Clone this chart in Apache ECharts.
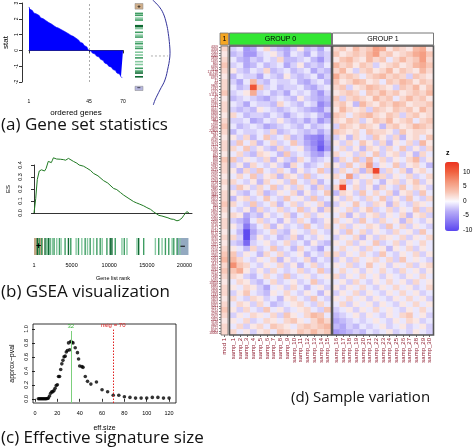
<!DOCTYPE html>
<html><head><meta charset="utf-8">
<script src="https://cdn.jsdelivr.net/npm/echarts@6/dist/echarts.min.js"></script>
<style>html,body{margin:0;padding:0;background:#fff}#c{width:474px;height:448px}</style>
</head><body><div id="c"></div>
<script>
// ---------------- DATA ----------------
// (a) gene set statistics
const statValues = [
 2.75,2.62,2.52,2.44,2.37,2.31,2.26,2.21,2.14,2.07,
 2.0,1.94,1.88,1.82,1.76,1.72,1.67,1.61,1.55,1.5,
 1.46,1.42,1.37,1.32,1.28,1.23,1.18,1.13,1.08,1.03,
 0.98,0.94,0.89,0.84,0.77,0.71,0.65,0.59,0.52,0.45,
 0.39,0.31,0.22,0.12,0.03,-0.04,-0.1,-0.17,-0.23,-0.3,
 -0.36,-0.42,-0.48,-0.56,-0.64,-0.72,-0.8,-0.87,-0.94,-1.0,
 -1.06,-1.13,-1.2,-1.28,-1.35,-1.43,-1.5,-1.58,-1.66,-1.75];
const statXTicks = [1,45,70];
const statYTicks = [-2,-1,0,1,2,3];
const aSetRanks = [2,4,7,9,15,16,18,22,25,27,32,34,37,39,43,46,49,53,56,60,63,65,69];
const aSetShade = [2,2,1,2,3,3,1,2,1,2,1,2,1,2,1,1,2,1,1,2,2,3,3];
const aEndBoxes = [{from:-8.5,to:-2.5,label:'+',color:'#cfae8a'},{from:79,to:83.5,label:'\u2212',color:'#b6b6de'}];
const densityCurve = [[0.12,3.19],[0.4,2.8],[0.6,2.36],[0.75,1.7],[0.83,1.11],[0.89,0.4],[0.91,-0.14],[0.88,-0.6],[0.83,-0.98],[0.68,-1.81],[0.45,-2.44],[0.23,-3.06],[0.15,-3.375]];
const densityMean = -0.31;
// (b) GSEA
const esCurve = [[0,0],[230,0.12],[330,0.2],[440,0.28],[560,0.27],[700,0.35],[850,0.34],[1000,0.36],[1200,0.345],[1400,0.35],[1500,0.34],[1600,0.37],[1750,0.40],[1900,0.43],[2100,0.425],[2300,0.42],[2450,0.44],[2580,0.46],[2800,0.455],[3000,0.45],[3240,0.455],[3500,0.448],[3900,0.445],[4200,0.44],[4580,0.455],[4800,0.45],[5240,0.43],[5700,0.415],[6000,0.40],[6580,0.39],[7000,0.375],[7500,0.355],[7910,0.33],[8500,0.31],[9240,0.27],[9800,0.25],[10570,0.205],[11000,0.195],[11500,0.17],[11900,0.15],[12500,0.125],[13240,0.095],[13600,0.085],[14000,0.075],[14570,0.06],[15000,0.045],[15500,0.03],[15900,0.01],[16200,-0.003],[16600,-0.02],[17000,-0.025],[17240,-0.036],[17800,-0.04],[18200,-0.05],[18570,-0.053],[19000,-0.065],[19300,-0.06],[19500,-0.045],[19700,-0.04],[19900,-0.02],[20130,-0.008],[20300,0.011],[20400,0.005],[20570,0.003]];
const leadingEdge = 2580;
const peakES = 0.46;
const esTicks = [0,0.1,0.2,0.3,0.4];
const bHitRanks = [444,711,1022,1467,1689,1911,2133,2444,2667,3022,3378,3600,4133,4578,4889,5600,5911,6356,6800,7111,7467,7911,8356,8800,9067,9689,10133,10356,10800,11689,12000,12356,13689,13911,14578,16133,16578,17022,17467,17911,18356,18578,19022,19378];
const bHitShade  = [3,2,2,3,1,3,2,1,2,1,2,1,2,3,2,1,2,1,2,1,2,1,2,2,1,2,3,3,2,1,2,1,1,3,2,1,2,1,2,2,1,2,2,1];
const bRegions = [{from:0,to:1200,label:'+',color:'#c3a584'},{from:19000,to:20530,label:'\u2212',color:'#93a9c0'}];
const rankTicks = [1,5000,10000,15000,20000];
// (c) effective signature size
const effSize   = [3,4,5,6,7,8,9,10,11,12,13,14,15,16,17,18,19,20,21,22,23,24,25,26,27,28,29,30,31,32,33,34,36,38,39,40,42,43,45,47,50,55,60,65,70,75,80,85,90,95,100,105,110,115,120];
const approxPval= [0,0,0,0,0,0,0,0,0.005,0.01,0.04,0.08,0.1,0.1,0.12,0.15,0.19,0.2,0.32,0.32,0.42,0.5,0.55,0.6,0.61,0.67,0.69,0.8,0.7,0.82,0.81,0.8,0.73,0.66,0.57,0.47,0.46,0.45,0.32,0.25,0.21,0.24,0.13,0.1,0.05,0.05,0.03,0.02,0.01,0.01,0.01,0.02,0.02,0.01,0.01];
const effTicks = [0,20,40,60,80,100,120];
const pvalTicks = [0,0.2,0.4,0.6,0.8,1.0];
const bestSize = 32, nsig = 70;
// (d) sample variation
const geneIds = [
"4059","4058","2064","4060","5870","1495","860","6490","7414","117178",
"80439","6767","71","60","9805","1432","1017","51176","87","5291",
"9940","5747","5727","8660","6868","6416","5881","998","5599","5898",
"22800","6237","387","4790","5970","7124","7157","1026","595","894",
"896","898","1869","2932","3725","5594","5595","5290","5293","5728",
"6654","2885","3265","3845","4893","5604","5605","369","673","5894",
"1956","2065","2099","2100","3716","3717","6774","6772","3569","3570",
"7422","2321","3791","5156","5159","2260","2261","2263","1147","3551",
"4792","5971","7186","7189","9020","10454","6885","5606","5608","1433",
"5600","5603","6300","9261","4217","4214","4296","2002","2353","3726",
"4609","6722","8061","10000"];
const group0Samples = ["samp_1","samp_2","samp_3","samp_4","samp_5","samp_6","samp_7","samp_8","samp_9","samp_10","samp_11","samp_12","samp_13","samp_14","samp_15"];
const group1Samples = ["samp_16","samp_17","samp_18","samp_19","samp_20","samp_21","samp_22","samp_23","samp_24","samp_25","samp_26","samp_27","samp_28","samp_29","samp_30"];
const groupNames = ["GROUP 0","GROUP 1"];
const mod1Values = [2,1,2,3,2,1,2,2,3,1,2,2,1,2,3,2,1,2,2,1,3,2,2,1,2,1,2,2,3,2,1,2,2,1,2,1,2,3,4,2,3,2,1,2,2,1,2,3,2,1,2,2];
const zRows = [
[-2,-1,-5,-4,-1,2,-2,-3,-4,-2,1,-3,-2,-4,-1, 2,3,1,4,2,3,6,5,1,3,2,1,4,5,1],
[-3,-2,-5,-5,-2,-1,1,-2,-4,-1,-2,-4,-1,-3,-2, 3,1,2,3,2,4,6,2,3,1,2,3,5,6,3],
[-1,-3,-4,-2,-3,-1,-2,2,-3,-3,-2,-1,-3,-5,-2, 1,3,4,2,1,4,2,3,-1,2,4,2,3,6,2],
[-2,-1,-4,-3,-1,-3,-2,-1,-4,-2,1,-3,-2,-3,-1, 4,2,3,1,3,2,-2,1,2,3,1,2,4,5,3],
[1,-2,-3,-1,-2,2,-3,-2,-1,-3,-2,-1,-4,-2,-3, 2,4,1,-2,2,3,1,2,4,1,3,2,1,4,2],
[-3,-1,-2,-2,-4,-1,-2,-3,1,-2,-3,-2,-1,-4,-2, 5,2,3,2,-1,2,3,4,2,3,2,-2,3,2,1],
[-2,-4,-1,4,-2,-3,-1,-2,-2,-1,-3,-4,-2,-1,-3, 3,1,2,4,3,1,2,-1,3,2,4,3,1,3,2],
[-1,-3,-2,11,3,-2,-1,-3,-2,-2,-1,-3,-4,-2,-1, 2,3,-2,1,2,4,3,2,1,-2,3,2,4,1,3],
[-2,-1,1,5,-2,-1,-3,-2,-4,-1,-2,-1,-3,-5,-2, 1,2,3,2,-1,3,2,4,2,3,1,2,3,2,4],
[-3,-2,-1,-2,-3,-4,-2,-1,-2,-3,1,-2,-3,-4,-3, 3,-2,2,3,2,1,4,2,3,-1,2,4,2,3,1],
[-1,-2,-4,-1,-2,-2,-3,2,-1,-2,-3,-1,-2,-6,-4, 2,3,1,-3,4,2,1,3,2,4,3,1,2,2,3],
[-2,-3,-2,-3,1,-1,-2,-3,-2,-1,-2,-3,-4,-5,-2, 1,4,2,1,2,-2,3,2,1,3,2,3,1,4,2],
[2,-1,-3,-2,-2,-3,-1,-2,-4,-2,-1,-2,-1,-3,-5, 3,2,-1,2,3,4,2,1,3,2,-2,2,3,1,2],
[-2,-2,-1,-4,-3,-1,-2,1,-2,-3,-2,-4,-2,-5,-3, 2,1,3,2,-2,1,3,2,4,1,2,3,-1,2,3],
[-1,-3,-2,-1,-2,-4,-3,-2,-1,-2,-3,-1,-3,-2,-1, -2,3,2,1,3,2,1,-3,2,3,1,2,4,3,2],
[-3,-1,-2,-2,-1,-2,2,-3,-2,-1,-2,-3,-2,-4,-2, 3,2,1,2,-1,3,2,2,1,-2,3,1,2,2,1],
[1,-2,2,-3,-1,3,-2,-1,2,-3,-2,-5,-6,-7,-3, -2,1,-3,2,-1,-2,3,1,-2,2,-3,1,2,-1,3],
[-2,3,-1,2,-3,-1,2,-2,-1,3,-2,-4,-6,-8,-4, 1,-2,2,-1,3,1,-2,2,-3,1,-1,2,-2,4,1],
[2,-1,3,-2,1,-2,-3,2,-2,-1,1,-3,-5,-9,-5, -1,2,-2,1,-3,2,1,-2,2,-1,3,-2,1,-2,2],
[-1,2,-2,-3,2,1,-1,-3,3,-2,-1,-2,-4,-5,-2, 2,-1,1,-2,2,-1,3,-2,1,2,-2,1,-3,2,-1],
[3,-2,1,-1,-2,2,-3,1,-2,-3,2,-1,-3,-2,-1, -3,2,-1,3,-2,4,-1,2,-2,1,-1,2,4,-2,1],
[-2,1,-3,2,-1,-2,1,-2,-4,2,-1,-3,-2,-1,2, 1,-2,3,-1,2,6,-2,1,-1,3,-2,1,2,-1,-3],
[1,-3,2,-2,3,-1,-2,2,-1,-3,1,-2,-1,3,-2, -2,2,-1,2,-3,3,12,-2,2,-1,2,-3,1,2,-1],
[-1,2,-1,3,-2,1,2,-3,2,1,-2,3,-2,-1,1, 2,-1,6,-2,1,-1,3,2,-2,1,-1,2,-2,-1,2],
[2,-1,-2,1,-3,2,-1,1,-2,3,-1,-2,2,-3,-1, -1,3,-2,1,-2,2,-1,-3,1,2,-2,1,3,-2,1],
[-2,3,1,-2,2,-1,3,-2,1,-2,2,-1,-3,2,-2, 2,12,-1,2,-2,1,-3,2,-1,-2,3,-1,2,1,-2],
[1,-2,-3,-1,2,-3,-2,1,-1,2,-3,1,-2,-1,3, -3,2,1,-2,3,-1,2,-1,2,-3,1,2,-2,3,-1],
[-3,1,2,-2,-1,3,-1,-2,3,-1,1,-2,3,-2,-1, 1,-2,2,-1,-2,2,-1,3,-2,1,-2,3,-1,-2,2],
[2,-1,-2,3,-2,-1,2,-3,-1,2,-2,1,-1,2,-3, -2,1,-1,3,-1,-2,2,1,-3,2,-1,-2,2,1,-1],
[-1,-2,1,-3,2,-2,-1,2,-2,-1,3,-2,1,-3,2, 1,-1,2,-2,1,3,-2,-1,2,-2,1,-1,3,-2,2],
[2,1,-4,-2,-3,1,-2,-1,2,-3,-1,2,-2,1,-1, -1,2,-3,1,-2,1,2,-2,1,-1,2,-3,1,2,-2],
[-2,-3,-5,-1,2,-2,-1,-3,1,-2,2,-1,-3,-2,1, 2,-1,1,-2,3,-1,-2,2,-1,1,-3,2,-1,-2,1],
[1,-2,-7,-3,-1,2,-3,1,-2,-1,-2,3,-1,-2,2, -1,2,-2,1,-1,2,1,-2,3,-1,2,-2,1,-1,-2],
[-1,-3,-10,-4,-2,-1,2,-2,-3,1,-1,-2,2,-1,-2, 1,-2,3,-1,2,-2,1,-1,-2,2,-1,1,-2,3,-1],
[2,-2,-10,-3,1,-2,-1,-3,-2,2,-3,-1,-2,1,-1, -2,1,-1,2,-3,1,-2,2,1,-1,2,-2,1,-1,2],
[-2,-3,-8,-2,-1,1,-2,-1,2,-2,-1,-3,1,-2,-3, 1,-1,2,-2,1,-1,3,-2,-1,2,-2,1,-1,2,-1],
[1,-1,-3,2,-2,-1,3,-2,-1,-3,2,-1,-2,-4,-1, -1,2,-1,1,-2,2,-1,1,-3,1,-1,2,-2,1,-1],
[3,-2,1,-1,-3,2,-1,2,-2,-1,1,-3,-1,-2,2, 2,-2,1,-1,2,-1,-2,3,-1,-2,1,-1,2,-2,1],
[4,2,-1,-2,1,-1,2,-3,1,-2,-1,2,-3,-1,-2, -2,1,-2,2,-1,1,2,-1,2,-2,3,-1,1,-1,-2],
[7,3,2,-1,-2,1,-1,2,-2,1,-3,-1,2,-2,-1, 1,-1,2,-2,-1,3,-1,1,-2,1,-1,2,-2,1,2],
[3,5,1,-2,1,-2,2,-1,-2,-1,2,-2,-1,3,-2, -1,2,-1,1,-2,1,-1,2,-1,-2,2,-1,1,-2,1],
[2,1,-2,-3,-1,2,-1,-2,3,-2,-1,1,-2,-1,1, 2,-2,1,-1,2,-1,1,-2,1,-1,-2,1,-1,2,-1],
[-1,2,1,-2,-3,-1,2,-2,-1,1,-2,-1,3,-2,-1, -1,1,-2,2,-1,-2,1,-1,2,-1,1,-2,2,-1,1],
[1,-1,2,1,-2,-4,-1,1,-2,2,-1,-3,-1,1,-2, 1,-2,1,-1,2,-1,-2,1,-1,2,-1,1,-2,-1,2],
[-2,1,3,-1,-2,-3,1,-1,2,-1,-2,1,-1,-3,1, -2,1,-1,2,-2,1,-1,-2,1,-1,2,-1,1,-2,-1],
[2,-1,-2,2,1,-2,-1,-3,1,2,-1,-2,3,-1,-2, 1,-1,2,-1,1,-2,1,-1,-2,1,-1,2,-1,1,-2],
[-1,2,1,-2,2,-1,-3,-2,-1,1,2,-1,-2,2,-1, -1,2,-2,1,-1,1,-2,1,-1,-2,1,-1,2,-1,1],
[1,-2,2,-1,-2,3,-1,1,-2,-1,1,2,-1,-2,3, -2,-1,1,-2,1,-1,2,-1,1,-1,-2,1,-1,2,-1],
[-2,1,-1,2,1,-1,2,-2,3,1,-1,2,4,3,-1, -3,-2,-1,1,-2,1,-1,-2,1,-1,2,3,-1,1,-2],
[1,-1,2,-2,-1,2,1,-1,2,3,1,-1,2,4,2, -4,-3,-2,-1,-2,-1,1,-1,-2,1,-1,2,1,-2,-1],
[-1,2,-2,1,2,-1,3,2,1,-1,2,3,2,3,4, -3,-4,-2,-3,-1,-2,-1,1,-2,-1,1,-2,-1,1,-2],
[2,-1,1,-2,1,2,-1,3,2,1,3,2,4,2,3, -5,-4,-3,-2,-3,-1,-2,-1,1,-2,-1,-2,1,-1,-2]];
const zTicks = [-10,-5,0,5,10];
const zMin = -10.3, zMax = 13.4;

// ---------------- STYLE / LAYOUT ----------------
const F = 'Liberation Sans, Arial, sans-serif';
const CAP = 'Open Sans, sans-serif';
const DR = '#8e1b2e';
const GREENS = {1:'#86c9a0',2:'#3f9d63',3:'#0e6932'};
const HM = {top:46, h:289, modL:221, modW:7, g0L:230, g0W:101, g1L:333, g1W:100, headTop:33, headH:12};

const chart = echarts.init(document.getElementById('c'), null, {renderer:'canvas'});
const rowIdx = zRows.map((_, i) => i);
const g0Data = [], g1Data = [];
zRows.forEach((row, r) => row.forEach((v, c) => { if (c < 15) g0Data.push([c, r, v]); else g1Data.push([c - 15, r, v]); }));
const modData = mod1Values.map((v, r) => [0, r, v]);

function axisText(sz){ return {fontFamily:F, fontSize:sz, color:'#000'}; }
const blackLine = {lineStyle:{color:'#000', width:0.8}};

const grids = [
  {left:29, top:3, width:94, height:79},            //0 stat
  {left:135, top:3, width:8, height:88},            //1 barcode a
  {left:150, top:0, width:22, height:105},          //2 density
  {left:34, top:165, width:158, height:48},         //3 ES
  {left:34, top:238, width:158, height:17},         //4 barcode b
  {left:33, top:324, width:143, height:79, show:true, borderColor:'#000', borderWidth:0.8, backgroundColor:'transparent'}, //5 eff
  {left:HM.modL, top:HM.top, width:HM.modW, height:HM.h}, //6 mod1
  {left:HM.g0L, top:HM.top, width:HM.g0W, height:HM.h},   //7 g0
  {left:HM.g1L, top:HM.top, width:HM.g1W, height:HM.h},   //8 g1
  {left:445, top:162, width:14, height:69}                //9 colorbar labels
].map(g => Object.assign({containLabel:false, outerBoundsMode:'none'}, g));

const hidden = {show:false};
const plain = v => String(v);
const xAxes = [
  {gridIndex:0, type:'value', min:1, max:70, offset:14, axisLine:Object.assign({show:true},blackLine),
   axisTick:{show:true, length:3, lineStyle:{color:'#000',width:0.8}, customValues:statXTicks},
   axisLabel:Object.assign({customValues:statXTicks, margin:3, formatter:plain}, axisText(5)), splitLine:hidden,
   name:'ordered genes', nameLocation:'middle', nameGap:13, nameTextStyle:axisText(8)},
  {gridIndex:1, type:'value', min:0, max:1, show:false},
  {gridIndex:2, type:'value', min:0, max:1, show:false},
  {gridIndex:3, type:'value', min:0, max:21000, axisLine:Object.assign({show:true},blackLine), axisTick:hidden, axisLabel:hidden, splitLine:hidden},
  {gridIndex:4, type:'value', min:0, max:21000, axisLine:hidden, axisTick:hidden, splitLine:hidden,
   axisLabel:Object.assign({customValues:rankTicks, margin:7, formatter:plain}, axisText(5.5)),
   name:'Gene list rank', nameLocation:'middle', nameGap:20, nameTextStyle:axisText(5.5)},
  {gridIndex:5, type:'value', min:-1.8, max:126.2, axisLine:hidden, splitLine:hidden,
   axisTick:{show:true, length:3, lineStyle:{color:'#000',width:0.8}, customValues:effTicks},
   axisLabel:Object.assign({customValues:effTicks, margin:7, formatter:plain}, axisText(5.5)),
   name:'eff.size', nameLocation:'middle', nameGap:22, nameTextStyle:axisText(7)},
  {gridIndex:6, type:'category', data:['mod 1'], axisLine:hidden, axisTick:{show:true, length:2, alignWithLabel:true, lineStyle:{color:'#000',width:0.6}},
   axisLabel:{rotate:90, interval:0, margin:3, fontFamily:F, fontSize:6, color:DR}},
  {gridIndex:7, type:'category', data:group0Samples, axisLine:hidden, axisTick:{show:true, length:2, alignWithLabel:true, interval:0, lineStyle:{color:'#000',width:0.6}},
   axisLabel:{rotate:90, interval:0, margin:3, fontFamily:F, fontSize:6, color:DR}},
  {gridIndex:8, type:'category', data:group1Samples, axisLine:hidden, axisTick:{show:true, length:2, alignWithLabel:true, interval:0, lineStyle:{color:'#000',width:0.6}},
   axisLabel:{rotate:90, interval:0, margin:3, fontFamily:F, fontSize:6, color:DR}},
  {gridIndex:9, type:'value', min:0, max:1, show:false}
];
const yAxes = [
  {gridIndex:0, type:'value', min:-2, max:3, offset:7, axisLine:Object.assign({show:true},blackLine),
   axisTick:{show:true, length:3, lineStyle:{color:'#000',width:0.8}, customValues:statYTicks},
   axisLabel:Object.assign({customValues:statYTicks, rotate:90, margin:3}, axisText(5)), splitLine:hidden,
   name:'stat', nameLocation:'middle', nameGap:12, nameRotate:90, nameTextStyle:axisText(8)},
  {gridIndex:1, type:'value', min:-9, max:84, inverse:true, show:false},
  {gridIndex:2, type:'value', min:-3.375, max:3.19, show:false},
  {gridIndex:3, type:'value', min:0, max:0.4, offset:8, axisLine:Object.assign({show:true},blackLine),
   axisTick:{show:true, length:3, lineStyle:{color:'#000',width:0.8}, customValues:esTicks},
   axisLabel:Object.assign({customValues:esTicks, rotate:90, margin:3, formatter:v=>v.toFixed(1)}, axisText(5.5)), splitLine:hidden,
   name:'ES', nameLocation:'middle', nameGap:15, nameRotate:90, nameTextStyle:axisText(6)},
  {gridIndex:4, type:'value', min:0, max:1, show:false},
  {gridIndex:5, type:'value', min:-0.06, max:1.07, axisLine:hidden, splitLine:hidden,
   axisTick:{show:true, length:3, lineStyle:{color:'#000',width:0.8}, customValues:pvalTicks},
   axisLabel:Object.assign({customValues:pvalTicks, rotate:90, margin:4, formatter:v=>v.toFixed(1)}, axisText(5.5)),
   name:'approx\u2212pval', nameLocation:'middle', nameGap:17, nameRotate:90, nameTextStyle:axisText(7)},
  {gridIndex:6, type:'category', data:rowIdx, inverse:true, show:false},
  {gridIndex:7, type:'category', data:rowIdx, inverse:true, show:false},
  {gridIndex:8, type:'category', data:rowIdx, inverse:true, show:false},
  {gridIndex:9, type:'value', min:zMin, max:zMax, position:'right', axisLine:hidden, axisTick:hidden, splitLine:hidden,
   axisLabel:Object.assign({customValues:zTicks, margin:4}, axisText(6.5))},
  {gridIndex:6, type:'category', data:geneIds, inverse:true, position:'left', axisLine:hidden,
   axisTick:{show:true, length:2, interval:0, alignWithLabel:true, lineStyle:{color:'#000',width:0.5}},
   axisLabel:{interval:0, margin:3, fontFamily:F, fontSize:3.2, color:DR}}
];

function hitLinesH(params, api){ // horizontal hit lines (panel a)
  const p0 = api.coord([0, api.value(0)]), p1 = api.coord([1, api.value(0)]);
  return {type:'rect', shape:{x:p0[0], y:p0[1]-0.8, width:p1[0]-p0[0], height:1.6}, style:{fill:GREENS[api.value(1)]}};
}
function hitLinesV(params, api){ // vertical hit lines (panel b)
  const p0 = api.coord([api.value(0), 0]), p1 = api.coord([api.value(0), 1]);
  return {type:'rect', shape:{x:p0[0]-0.7, y:p1[1], width:1.4, height:p0[1]-p1[1]}, style:{fill:GREENS[api.value(1)]}};
}

const series = [
  {type:'line', xAxisIndex:0, yAxisIndex:0, step:'middle', symbol:'none', data:statValues.map((v,i)=>[i+1,v]),
   lineStyle:{color:'#0000ff', width:0.6}, areaStyle:{color:'#0000ff', opacity:1}, silent:true,
   markLine:{silent:true, symbol:'none', label:{show:false}, lineStyle:{color:'#888', type:[2,2], width:0.7}, data:[{xAxis:45}]}},
  {type:'custom', xAxisIndex:1, yAxisIndex:1, data:aEndBoxes.map((b,i)=>[i]), silent:true,
   renderItem:(params, api)=>{ const b = aEndBoxes[api.value(0)];
     const p0 = api.coord([0,b.from]), p1 = api.coord([1,b.to]);
     return {type:'group', children:[
       {type:'rect', shape:{x:p0[0], y:p0[1], width:p1[0]-p0[0], height:p1[1]-p0[1]}, style:{fill:b.color, stroke:'#888', lineWidth:0.5}},
       {type:'text', style:{text:b.label, x:(p0[0]+p1[0])/2, y:(p0[1]+p1[1])/2, align:'center', verticalAlign:'middle', font:'bold 6px '+F, fill:'#000'}}]}; }},
  {type:'custom', xAxisIndex:1, yAxisIndex:1, data:aSetRanks.map((r,i)=>[r, aSetShade[i]]), renderItem:hitLinesH, silent:true},
  {type:'line', xAxisIndex:2, yAxisIndex:2, data:densityCurve, smooth:0.4, symbol:'none', clip:false, silent:true,
   lineStyle:{color:'#33339a', width:1}},
  {type:'line', xAxisIndex:2, yAxisIndex:2, data:[[-0.32,densityMean],[0.82,densityMean]], symbol:'none', clip:false, silent:true,
   lineStyle:{color:'#999', width:0.8, type:[2,2]}},
  {type:'line', xAxisIndex:3, yAxisIndex:3, data:esCurve, symbol:'none', clip:false, silent:true,
   lineStyle:{color:'#1f7a22', width:1},
   markLine:{silent:true, symbol:'none', label:{show:false}, lineStyle:{color:'#e08a8a', type:'solid', width:0.7},
     data:[[{coord:[leadingEdge,0]},{coord:[leadingEdge,peakES]}]]}},
  {type:'custom', xAxisIndex:4, yAxisIndex:4, data:bRegions.map((b,i)=>[i]), silent:true,
   renderItem:(params, api)=>{ const b = bRegions[api.value(0)];
     const p0 = api.coord([b.from,0]), p1 = api.coord([b.to,1]);
     return {type:'rect', shape:{x:p0[0], y:p1[1], width:p1[0]-p0[0], height:p0[1]-p1[1]}, style:{fill:b.color}}; }},
  {type:'custom', xAxisIndex:4, yAxisIndex:4, data:bHitRanks.map((r,i)=>[r, bHitShade[i]]), renderItem:hitLinesV, silent:true},
  {type:'custom', xAxisIndex:4, yAxisIndex:4, data:bRegions.map((b,i)=>[i]), silent:true, z:5,
   renderItem:(params, api)=>{ const b = bRegions[api.value(0)];
     const p0 = api.coord([b.from,0]), p1 = api.coord([b.to,1]);
     return {type:'text', style:{text:b.label, x:(p0[0]+p1[0])/2, y:(p0[1]+p1[1])/2, align:'center', verticalAlign:'middle', font:'bold 9px '+F, fill:'#000'}}; }},
  {type:'scatter', xAxisIndex:5, yAxisIndex:5, data:effSize.map((e,i)=>[e, approxPval[i]]), symbolSize:3.6, silent:true,
   itemStyle:{color:'#000'},
   markLine:{silent:true, symbol:'none', data:[
     [{coord:[bestSize,-0.06], lineStyle:{color:'#7ccf7c', type:'solid', width:1}},
      {coord:[bestSize,0.97], label:{show:true, position:'end', formatter:String(bestSize), color:'#3cb43c', fontSize:6, fontFamily:F, distance:2}}],
     [{coord:[nsig,-0.06], lineStyle:{color:'#e02020', type:[1.5,1.5], width:1}},
      {coord:[nsig,0.99], label:{show:true, position:'end', formatter:'nsig = '+nsig, color:'#e02020', fontSize:6, fontFamily:F, distance:1}}]
   ]}},
  {type:'heatmap', xAxisIndex:6, yAxisIndex:6, data:modData, silent:true},
  {type:'heatmap', xAxisIndex:7, yAxisIndex:7, data:g0Data, silent:true},
  {type:'heatmap', xAxisIndex:8, yAxisIndex:8, data:g1Data, silent:true}
];

const gfx = [];
function box(x,y,w,h,fill,stroke,lw){ gfx.push({type:'rect', shape:{x,y,width:w,height:h}, style:{fill,stroke,lineWidth:lw}, z:10, silent:true}); }
function label(x,y,t,size,color){ gfx.push({type:'text', style:{text:t, x, y, align:'center', verticalAlign:'middle', font:size+'px '+F, fill:color}, z:11, silent:true}); }
box(HM.modL-1, HM.headTop, HM.modW+1.5, HM.headH, '#f5a623', '#777', 0.8); label(HM.modL+HM.modW/2, HM.headTop+HM.headH/2, '1', 7, '#000');
box(HM.g0L-0.5, HM.headTop, HM.g0W+1, HM.headH, '#33e633', '#777', 1); label(HM.g0L+HM.g0W/2, HM.headTop+HM.headH/2+0.5, groupNames[0], 7, '#000');
box(HM.g1L-0.5, HM.headTop, HM.g1W+1, HM.headH, '#ffffff', '#777', 1); label(HM.g1L+HM.g1W/2, HM.headTop+HM.headH/2+0.5, groupNames[1], 7, '#000');
box(HM.modL, HM.top, HM.modW, HM.h, 'none', '#666', 0.8);
box(HM.g0L-0.5, HM.top, HM.g0W+1, HM.h, 'none', '#555', 1.6);
box(HM.g1L-0.5, HM.top, HM.g1W+1, HM.h, 'none', '#555', 1.6);

const capBig = {fontFamily:CAP, fontSize:17, fontWeight:'normal', color:'#111'};
const capD = {fontFamily:CAP, fontSize:15, fontWeight:'normal', color:'#111'};
const option = {
  animation:false,
  backgroundColor:'#fff',
  title:[
    {text:'(a) Gene set statistics', left:1, top:117, textStyle:capBig, padding:0},
    {text:'(b) GSEA visualization', left:1, top:284, textStyle:capBig, padding:0},
    {text:'(c) Effective signature size', left:1, top:430, textStyle:capBig, padding:0},
    {text:'(d) Sample variation', left:291, top:390, textStyle:capD, padding:0},
    {text:'z', left:446, top:150, textStyle:{fontFamily:F, fontSize:7, fontWeight:'bold', color:'#000'}, padding:0}
  ],
  grid:grids, xAxis:xAxes, yAxis:yAxes, series,
  visualMap:{type:'continuous', min:zMin, max:zMax, seriesIndex:[10,11,12], calculable:false, left:445, top:162,
    itemWidth:14, itemHeight:69, padding:0, text:null, showLabel:false,
    inRange:{color:['#5a46f0','#8a7af3','#b9aef8','#fbfaff','#f8c3b1','#f49679','#f0613f','#ec3320']}},
  graphic:{elements:gfx}
};
chart.setOption(option);
</script></body></html>
